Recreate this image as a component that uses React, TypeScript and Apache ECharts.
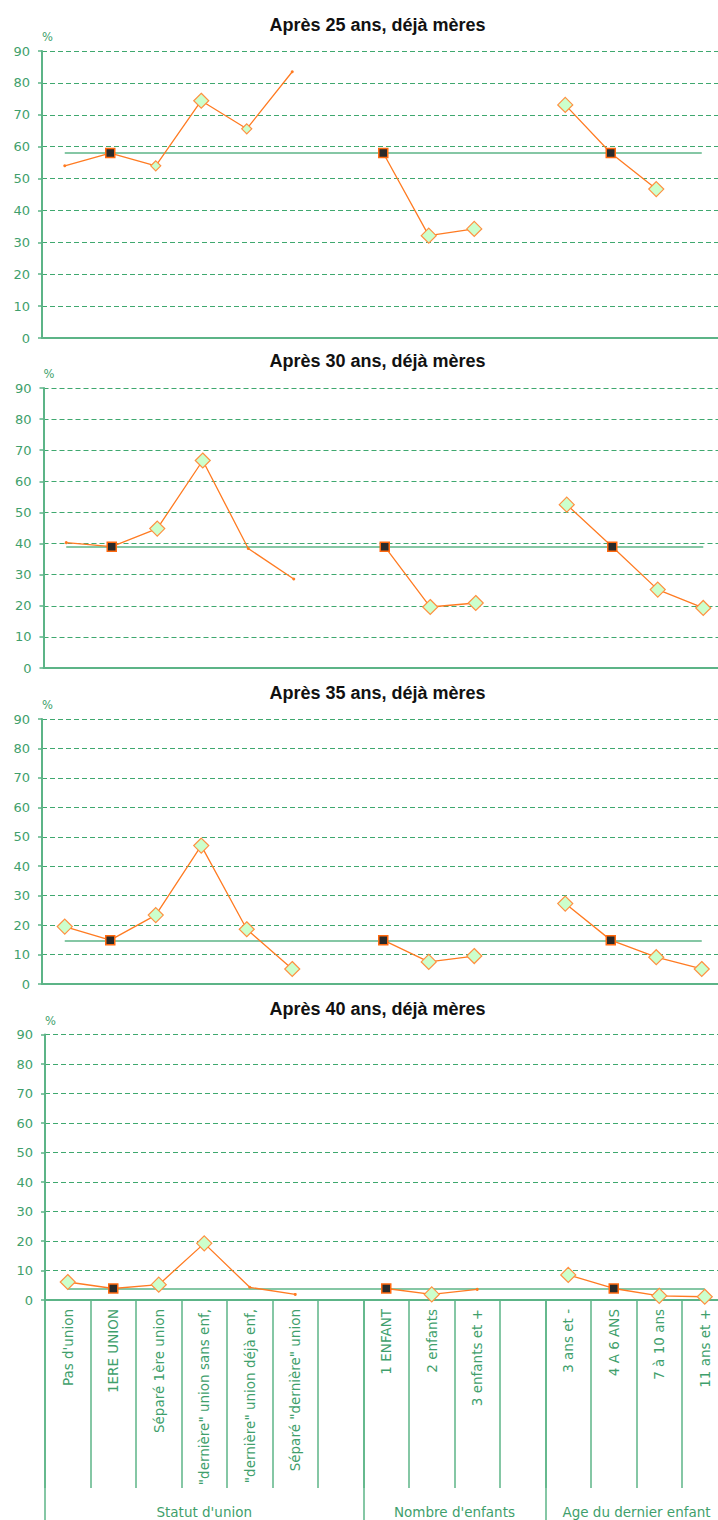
import React, { useEffect, useRef } from 'react';
import * as echarts from 'echarts';

// ---------- data ----------
const categories = [
  "Pas d'union",
  '1ERE UNION',
  'Séparé 1ère union',
  '"dernière" union sans enf,',
  '"dernière" union déjà enf,',
  'Séparé "dernière" union',
  ' ',
  '1 ENFANT',
  '2 enfants',
  '3 enfants et +',
  '  ',
  '3 ans et -',
  '4 A 6 ANS',
  '7 à 10 ans',
  '11 ans et +',
];
const groups = ["Statut d'union", "Nombre d'enfants", 'Age du dernier enfant'];
const groupSizes = [7, 4, 4];

const panelTitles = [
  'Après 25 ans, déjà mères',
  'Après 30 ans, déjà mères',
  'Après 35 ans, déjà mères',
  'Après 40 ans, déjà mères',
];

const values25 = [54, 58, 54, 74.4, 65.6, 83.5, null, 58, 32.1, 34.2, null, 73.1, 58, 46.7, null];
const values30 = [40.3, 39, 44.8, 66.7, 38.4, 28.6, null, 39, 19.6, 20.9, null, 52.5, 39, 25.2, 19.3];
const values35 = [19.5, 14.9, 23.4, 47.0, 18.6, 5.1, null, 14.9, 7.5, 9.5, null, 27.3, 14.9, 9.1, 5.1];
const values40 = [6.1, 3.9, 5.2, 19.2, 4.3, 1.9, null, 3.9, 1.9, 3.6, null, 8.5, 3.9, 1.4, 1.1];

const averages = [58, 38.9, 14.8, 3.8];

// point kind: R = reference category, B = significant (large), s = small, t = tiny, - = none
const kinds25 = ['t', 'R', 's', 'B', 's', 't', '-', 'R', 'B', 'B', '-', 'B', 'R', 'B', '-'];
const kinds30 = ['t', 'R', 'B', 'B', 't', 't', '-', 'R', 'B', 'B', '-', 'B', 'R', 'B', 'B'];
const kinds35 = ['B', 'R', 'B', 'B', 'B', 'B', '-', 'R', 'B', 'B', '-', 'B', 'R', 'B', 'B'];
const kinds40 = ['B', 'R', 'B', 'B', 't', 't', '-', 'R', 'B', 't', '-', 'B', 'R', 'B', 'B'];

const yMin = 0;
const yMax = 90;
const yStep = 10;

// ---------- layout / style ----------
const panelValues = [values25, values30, values35, values40];
const panelKinds = [kinds25, kinds30, kinds35, kinds40];
const layouts = [
  { left: 42, top: 51, width: 682.5, height: 287, titleY: 24.5 },
  { left: 43.5, top: 388, width: 682.5, height: 280, titleY: 361 },
  { left: 42, top: 719, width: 682.5, height: 265, titleY: 692.5 },
  { left: 45, top: 1034.5, width: 682.5, height: 265.5, titleY: 1009 },
];
const TITLE_X = 377.5;

const AXIS_GREEN = '#5cb487';
const GRID_GREEN = '#3fa86f';
const LABEL_GREEN = '#3f9f6c';
const ORANGE = '#ff7b22';
const FONT = 'DejaVu Sans';

function pointItem(v: number | null, k: string) {
  if (v === null || v === undefined) return null;
  if (k === 'R')
    return {
      value: v,
      symbol: 'rect',
      symbolSize: 9,
      itemStyle: { color: '#2a2a2a', borderColor: '#ff6a10', borderWidth: 1.5 },
    };
  if (k === 'B')
    return {
      value: v,
      symbol: 'diamond',
      symbolSize: 15,
      itemStyle: { color: '#ccffcc', borderColor: '#ff9040', borderWidth: 1.2 },
    };
  if (k === 's')
    return {
      value: v,
      symbol: 'diamond',
      symbolSize: 10,
      itemStyle: { color: '#ccffcc', borderColor: '#ff9040', borderWidth: 1.2 },
    };
  return {
    value: v,
    symbol: 'circle',
    symbolSize: 3,
    itemStyle: { color: ORANGE, borderWidth: 0 },
  };
}

export default function App() {
  const ref = useRef<HTMLDivElement>(null);

  useEffect(() => {
    if (!ref.current) return;
    const chart = echarts.init(ref.current, null, { renderer: 'svg' });

    const boundaries: number[] = [0];
    groupSizes.forEach((s) => boundaries.push(boundaries[boundaries.length - 1] + s));
    const centers = groupSizes.map((s, i) => boundaries[i] + s / 2);

    const grids = layouts.map((l) => ({
      left: l.left,
      top: l.top,
      width: l.width,
      height: l.height,
      containLabel: false,
    }));

    const xAxes: any[] = layouts.map((l, i) => ({
      type: 'category',
      gridIndex: i,
      data: categories,
      boundaryGap: true,
      axisLine: { show: true, lineStyle: { color: AXIS_GREEN, width: 2 } },
      axisTick:
        i === 3
          ? { show: true, interval: 0, length: 188, alignWithLabel: false, lineStyle: { color: AXIS_GREEN, width: 1.5 } }
          : { show: false },
      axisLabel:
        i === 3
          ? {
              show: true,
              interval: 0,
              rotate: 90,
              margin: 9,
              color: LABEL_GREEN,
              fontSize: 13.5,
              fontFamily: FONT,
            }
          : { show: false },
      splitLine: { show: false },
    }));

    xAxes.push({
      type: 'value',
      gridIndex: 3,
      min: 0,
      max: categories.length,
      position: 'bottom',
      axisLine: { show: false },
      splitLine: { show: false },
      axisTick: {
        show: true,
        customValues: boundaries,
        length: 220,
        lineStyle: { color: AXIS_GREEN, width: 1.5 },
      },
      axisLabel: {
        show: true,
        customValues: centers,
        formatter: (v: number) => {
          const idx = centers.findIndex((c) => Math.abs(c - v) < 1e-6);
          return idx >= 0 ? groups[idx] : '';
        },
        margin: 205,
        color: LABEL_GREEN,
        fontSize: 13.5,
        fontFamily: FONT,
      },
    });

    const yAxes = layouts.map((l, i) => ({
      type: 'value',
      gridIndex: i,
      min: yMin,
      max: yMax,
      interval: yStep,
      name: '%',
      nameLocation: 'end',
      nameGap: 8,
      nameTextStyle: { color: LABEL_GREEN, fontSize: 11.5, fontFamily: FONT, align: 'left' },
      axisLine: { show: true, lineStyle: { color: AXIS_GREEN, width: 2 } },
      axisTick: { show: true, length: 4, lineStyle: { color: AXIS_GREEN, width: 1.5 } },
      axisLabel: { color: LABEL_GREEN, fontSize: 13, fontFamily: FONT, margin: 12 },
      splitLine: { show: true, lineStyle: { color: GRID_GREEN, type: [5, 3], width: 1.2 } },
    }));

    const series = panelValues.map((vals, i) => ({
      type: 'line',
      xAxisIndex: i,
      yAxisIndex: i,
      connectNulls: false,
      lineStyle: { color: ORANGE, width: 1.3 },
      itemStyle: { color: ORANGE },
      showAllSymbol: true,
      data: vals.map((v, j) => pointItem(v, panelKinds[i][j])),
      markLine: {
        silent: true,
        z: 1,
        symbol: 'none',
        label: { show: false },
        lineStyle: { color: AXIS_GREEN, width: 1.6, type: 'solid' },
        data: [
          [
            { coord: [0, averages[i]] },
            { coord: [categories.length - 1, averages[i]] },
          ],
        ],
      },
      z: 3,
    }));

    const graphic = layouts.map((l, i) => ({
      type: 'text',
      x: TITLE_X,
      y: l.titleY,
      style: {
        text: panelTitles[i],
        fill: '#111111',
        font: 'bold 18px "Liberation Sans", Arial, sans-serif',
        align: 'center',
        verticalAlign: 'middle',
      },
    }));

    chart.setOption({
      animation: false,
      backgroundColor: '#ffffff',
      grid: grids,
      xAxis: xAxes,
      yAxis: yAxes,
      series,
      graphic,
    });

    return () => {
      chart.dispose();
    };
  }, []);

  return (
    <div
      style={{
        position: 'absolute',
        left: 0,
        top: 0,
        width: 718,
        height: 1520,
        overflow: 'hidden',
        background: '#ffffff',
      }}
    >
      <div ref={ref} style={{ width: 730, height: 1520 }} />
    </div>
  );
}
